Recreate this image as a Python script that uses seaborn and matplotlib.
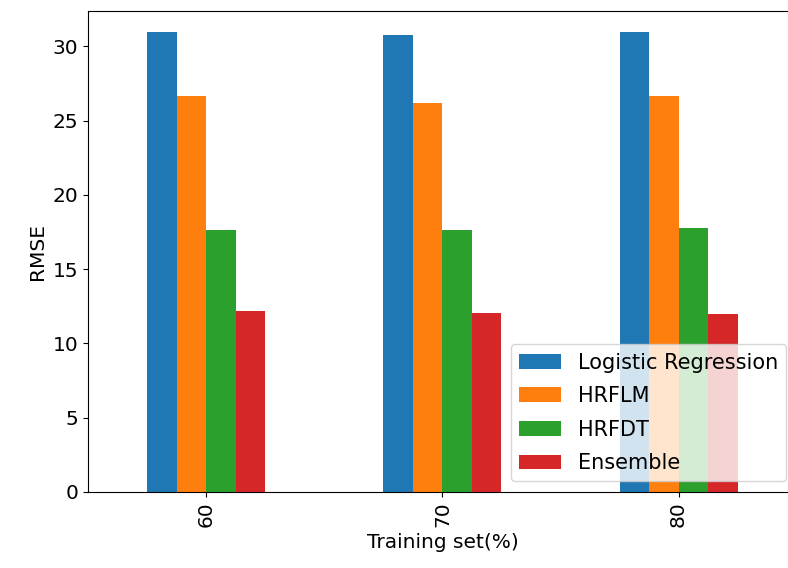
import pandas as pd
import seaborn as sns
import matplotlib.pyplot as plt

# values
training_sizes = ['60', '70', '80']
logistic_regression = [31.0, 30.75, 31.0]
hrflm = [26.65, 26.2, 26.65]
hrfdt = [17.65, 17.65, 17.8]
ensemble = [12.2, 12.05, 11.95]

models = ['Logistic Regression', 'HRFLM', 'HRFDT', 'Ensemble']
colors = ['#1f77b4', '#ff7f0e', '#2ca02c', '#d62728']

df = pd.DataFrame({
    'Training set(%)': training_sizes * 4,
    'Model': [m for m in models for _ in training_sizes],
    'RMSE': logistic_regression + hrflm + hrfdt + ensemble,
})

plt.rcParams['font.size'] = 14.5

fig, ax = plt.subplots(figsize=(7.88, 5.68), dpi=100)
sns.barplot(data=df, x='Training set(%)', y='RMSE', hue='Model',
            palette=colors, width=0.5, saturation=1, gap=0, ax=ax)

ax.set_xlim(-0.5, 2.5)
ax.set_ylim(0, 32.4)
ax.tick_params(axis='x', rotation=90)
ax.legend(loc='lower right', fontsize=15, labelspacing=0.65)

# the right edge of the axes falls just outside the picture, as in the reference
plt.subplots_adjust(left=0.112, right=1.011, top=0.981, bottom=0.134)
plt.savefig('out.png')
